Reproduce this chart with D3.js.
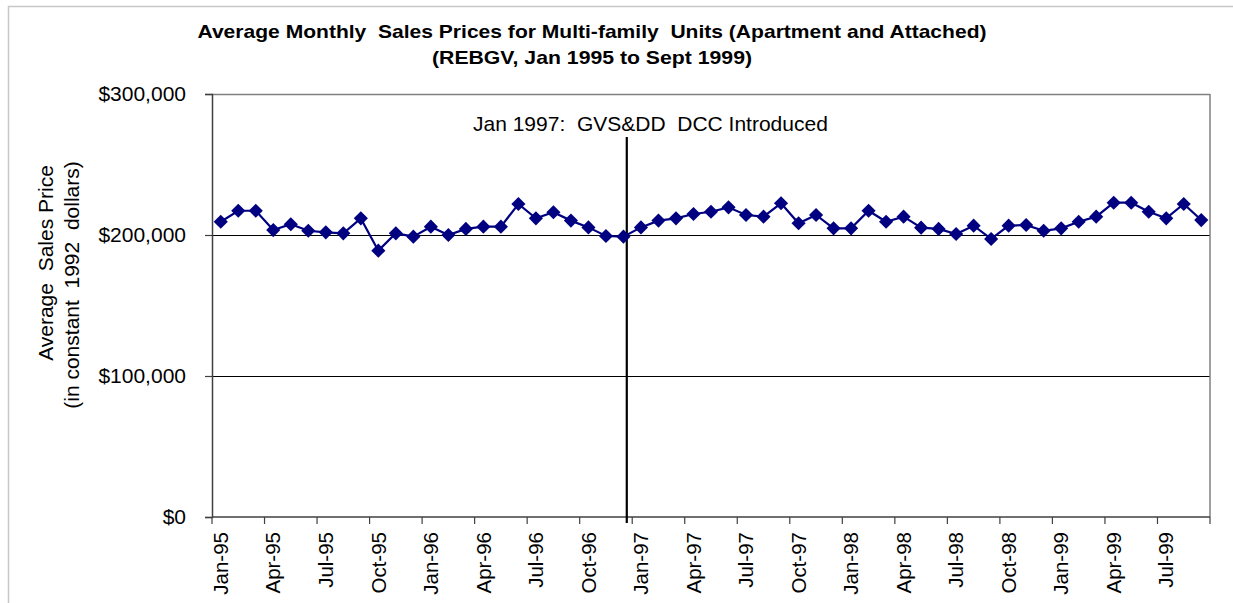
<!DOCTYPE html>
<html>
<head>
<meta charset="utf-8">
<script src="https://cdn.jsdelivr.net/npm/d3@7"></script>
<style>
  html, body { margin: 0; padding: 0; background: #fff; }
  svg { display: block; font-family: "Liberation Sans", Arial, sans-serif; }
  svg text { white-space: pre; }
</style>
</head>
<body>
<svg id="chart" width="1233" height="603"></svg>
<script>
const categories = [
  "Jan-95","Feb-95","Mar-95","Apr-95","May-95","Jun-95","Jul-95","Aug-95","Sep-95","Oct-95","Nov-95","Dec-95",
  "Jan-96","Feb-96","Mar-96","Apr-96","May-96","Jun-96","Jul-96","Aug-96","Sep-96","Oct-96","Nov-96","Dec-96",
  "Jan-97","Feb-97","Mar-97","Apr-97","May-97","Jun-97","Jul-97","Aug-97","Sep-97","Oct-97","Nov-97","Dec-97",
  "Jan-98","Feb-98","Mar-98","Apr-98","May-98","Jun-98","Jul-98","Aug-98","Sep-98","Oct-98","Nov-98","Dec-98",
  "Jan-99","Feb-99","Mar-99","Apr-99","May-99","Jun-99","Jul-99","Aug-99","Sep-99"
];
const prices = [
  209400, 217200, 217200, 203500, 207600, 203000, 201900, 201200, 211800, 188900, 201200, 198800,
  205900, 200000, 204300, 205900, 205900, 222000, 211800, 216100, 210200, 205400, 199300, 198800,
  205400, 210200, 211800, 214900, 216500, 219600, 214200, 213000, 222500, 208300, 214200, 204700,
  204700, 217200, 209400, 213000, 205200, 204300, 200700, 206600, 197200, 206600, 207100, 203000,
  204700, 209400, 213000, 222900, 222900, 216500, 211800, 222000, 210600
];
const yTicks = [0, 100000, 200000, 300000];
const gridValues = [100000, 200000];
const titleLines = [
  "Average Monthly  Sales Prices for Multi-family  Units (Apartment and Attached)",
  "(REBGV, Jan 1995 to Sept 1999)"
];
const titleWidths = [789, 320];
const yTitleLines = ["Average  Sales Price", "(in constant  1992  dollars)"];
const annotationText = "Jan 1997:  GVS&DD  DCC Introduced";
const annotationAfter = "Dec-96";

const svg = d3.select("#chart");
const L = 212, R = 1210, T = 94, B = 517;

const x = d3.scaleBand().domain(categories).range([L, R]).padding(0);
const y = d3.scaleLinear().domain([0, 300000]).range([B, T]);
const bw = x.bandwidth();
const cx = d => x(d) + bw / 2;

// outer frame (light gray)
svg.append("line").attr("x1", 8).attr("x2", 1233).attr("y1", 6.5).attr("y2", 6.5)
  .attr("stroke", "#c8c8c8").attr("stroke-width", 1.5);
svg.append("line").attr("x1", 8.5).attr("x2", 8.5).attr("y1", 6).attr("y2", 603)
  .attr("stroke", "#c8c8c8").attr("stroke-width", 1.5);

// title
svg.selectAll("text.title").data(titleLines).enter().append("text")
  .attr("class", "title")
  .attr("x", 592).attr("y", (d, i) => 38 + i * 26)
  .attr("text-anchor", "middle")
  .attr("font-weight", "bold").attr("font-size", 19)
  .attr("textLength", (d, i) => titleWidths[i])
  .attr("lengthAdjust", "spacingAndGlyphs")
  .attr("fill", "#000")
  .text(d => d);

// gridlines
svg.selectAll("line.grid").data(gridValues).enter().append("line")
  .attr("class", "grid")
  .attr("x1", L).attr("x2", R)
  .attr("y1", d => Math.round(y(d)) + 0.5).attr("y2", d => Math.round(y(d)) + 0.5)
  .attr("stroke", "#000").attr("stroke-width", 1);

// plot border top/right gray
svg.append("line").attr("x1", L).attr("x2", R).attr("y1", T + 0.5).attr("y2", T + 0.5)
  .attr("stroke", "#808080").attr("stroke-width", 1.5);
svg.append("line").attr("x1", R).attr("x2", R).attr("y1", T).attr("y2", B)
  .attr("stroke", "#808080").attr("stroke-width", 1.5);

// y axis
const yAxis = d3.axisLeft(y).tickValues(yTicks)
  .tickFormat(d => "$" + d3.format(",")(d)).tickSize(7).tickPadding(19);
const gy = svg.append("g").attr("transform", `translate(${L},0)`).call(yAxis);
gy.select(".domain").attr("stroke", "#404040").attr("stroke-width", 1.5);
gy.selectAll(".tick line").attr("stroke", "#404040").attr("stroke-width", 1.2);
gy.selectAll(".tick text").attr("font-size", 21).attr("fill", "#000")
  .attr("font-family", "Liberation Sans, Arial, sans-serif");

// y axis title
svg.selectAll("text.ytitle").data(yTitleLines).enter().append("text")
  .attr("class", "ytitle")
  .attr("transform", (d, i) => `translate(${46 + i * 26},${263 + i * 22}) rotate(-90)`)
  .attr("text-anchor", "middle").attr("dy", "0.35em")
  .attr("font-size", 21).attr("fill", "#000")
  .text(d => d);

// x axis line
svg.append("line").attr("x1", L).attr("x2", R).attr("y1", B).attr("y2", B)
  .attr("stroke", "#404040").attr("stroke-width", 1.5);

// x tick marks (between categories, every 3) + end
const tickCats = categories.filter((d, i) => i % 3 === 0);
const tickXs = tickCats.map(d => x(d)).concat([R]);
svg.selectAll("line.xtick").data(tickXs).enter().append("line")
  .attr("class", "xtick")
  .attr("x1", d => d).attr("x2", d => d).attr("y1", B).attr("y2", B + 7)
  .attr("stroke", "#404040").attr("stroke-width", 1.2);

// x labels
svg.selectAll("text.xlab").data(tickCats).enter().append("text")
  .attr("class", "xlab")
  .attr("transform", d => `translate(${cx(d)},532) rotate(-90)`)
  .attr("text-anchor", "end").attr("dy", "0.35em")
  .attr("font-size", 20.5).attr("fill", "#000")
  .text(d => d);

// annotation vertical line
const annX = x(annotationAfter) + bw * 0.69;
svg.append("line").attr("x1", annX).attr("x2", annX).attr("y1", 137).attr("y2", 523)
  .attr("stroke", "#000").attr("stroke-width", 2.2);
svg.append("text").attr("x", 473).attr("y", 131)
  .attr("font-size", 21).attr("fill", "#000")
  .text(annotationText);

// series line
const line = d3.line().x((d, i) => cx(categories[i])).y(d => y(d));
svg.append("path").datum(prices)
  .attr("d", line).attr("fill", "none")
  .attr("stroke", "#000080").attr("stroke-width", 2.2);

// diamond markers
const sym = d3.symbol(d3.symbolSquare, 100);
svg.selectAll("path.mk").data(prices).enter().append("path")
  .attr("class", "mk")
  .attr("d", sym)
  .attr("transform", (d, i) => `translate(${cx(categories[i])},${y(d)}) rotate(45)`)
  .attr("fill", "#000080");
</script>
</body>
</html>
